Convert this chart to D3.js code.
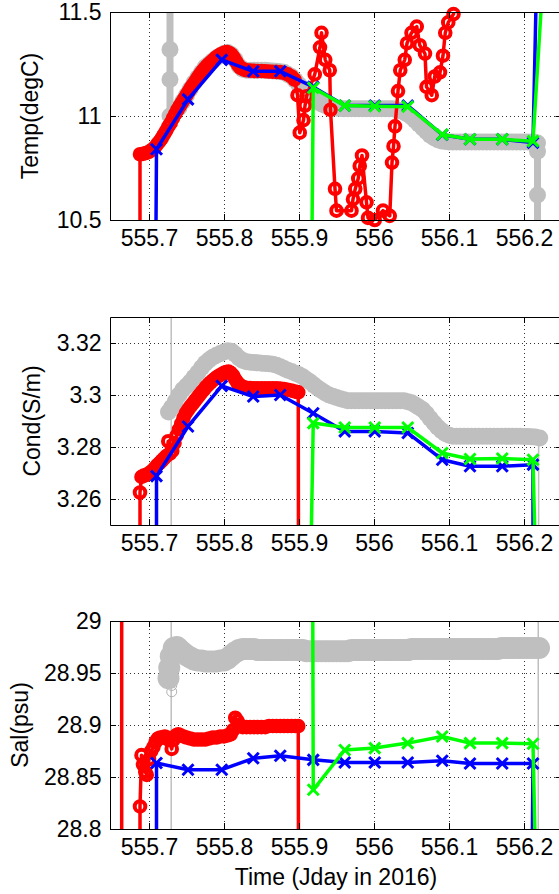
<!DOCTYPE html>
<html><head><meta charset="utf-8">
<script src="https://cdn.jsdelivr.net/npm/d3@7"></script>
<style>
html,body{margin:0;padding:0;background:#fff;}
svg{display:block;font-family:"Liberation Sans",Arial,Helvetica,sans-serif;}
</style></head><body>
<svg id="c" width="559" height="894"></svg>
<script>
// ---------- axes ----------
const xDomain = [555.648, 556.25];
const xTicks = [555.7, 555.8, 555.9, 556, 556.1, 556.2];
const xTickLabels = ["555.7", "555.8", "555.9", "556", "556.1", "556.2"];
const tempDomain = [10.5, 11.5];
const tempTicks = [10.5, 11, 11.5];
const tempTickLabels = ["10.5", "11", "11.5"];
const condDomain = [3.25, 3.33];
const condTicks = [3.26, 3.28, 3.3, 3.32];
const condTickLabels = ["3.26", "3.28", "3.3", "3.32"];
const salDomain = [28.8, 29];
const salTicks = [28.8, 28.85, 28.9, 28.95, 29];
const salTickLabels = ["28.8", "28.85", "28.9", "28.95", "29"];

// ---------- shared sample times (x-marker instruments) ----------
const blueT = [555.71, 555.752, 555.797, 555.839, 555.875, 555.919, 555.961, 556.001, 556.045, 556.091, 556.128, 556.171, 556.212];
const greenT = [555.919, 555.961, 556.001, 556.045, 556.091, 556.128, 556.171, 556.212];

// ---------- Temperature ----------
const tempGrayT = [555.728, 555.728, 555.728, 555.728, 555.733, 555.74, 555.745, 555.75, 555.755, 555.76, 555.765, 555.77, 555.775, 555.78, 555.785, 555.79, 555.795, 555.8, 555.805, 555.81, 555.815, 555.82, 555.825, 555.83, 555.835, 555.84, 555.845, 555.85, 555.855, 555.86, 555.865, 555.87, 555.875, 555.88, 555.885, 555.89, 555.895, 555.9, 555.905, 555.91, 555.915, 555.92, 555.925, 555.93, 555.935, 555.94, 555.945, 555.95, 555.955, 555.96, 555.965, 555.97, 555.975, 555.98, 555.985, 555.99, 555.995, 556.0, 556.005, 556.01, 556.015, 556.02, 556.025, 556.03, 556.035, 556.04, 556.045, 556.05, 556.055, 556.06, 556.065, 556.07, 556.075, 556.08, 556.085, 556.09, 556.095, 556.1, 556.105, 556.11, 556.115, 556.12, 556.125, 556.13, 556.135, 556.14, 556.145, 556.15, 556.155, 556.16, 556.165, 556.17, 556.175, 556.18, 556.185, 556.19, 556.195, 556.2, 556.205, 556.21, 556.215, 556.218, 556.218, 556.218, 556.218];
const tempGrayV = [11.6, 11.32, 11.175, 11.0, 11.01, 11.04, 11.07, 11.1, 11.13, 11.16, 11.185, 11.21, 11.235, 11.25, 11.265, 11.28, 11.29, 11.3, 11.305, 11.295, 11.27, 11.24, 11.225, 11.22, 11.22, 11.22, 11.22, 11.22, 11.22, 11.218, 11.216, 11.215, 11.213, 11.21, 11.2, 11.19, 11.172, 11.15, 11.132, 11.115, 11.1, 11.085, 11.07, 11.058, 11.05, 11.044, 11.04, 11.038, 11.036, 11.035, 11.035, 11.035, 11.035, 11.035, 11.035, 11.035, 11.035, 11.035, 11.035, 11.035, 11.035, 11.035, 11.035, 11.03, 11.025, 11.018, 11.008, 10.995, 10.978, 10.96, 10.942, 10.925, 10.908, 10.895, 10.886, 10.88, 10.877, 10.875, 10.875, 10.875, 10.875, 10.875, 10.875, 10.875, 10.875, 10.875, 10.875, 10.875, 10.875, 10.875, 10.875, 10.875, 10.875, 10.875, 10.875, 10.875, 10.875, 10.875, 10.875, 10.875, 10.873, 10.87, 10.83, 10.62, 10.4];
const tempRedT = [555.688, 555.688, 555.692, 555.696, 555.7, 555.704, 555.708, 555.711, 555.714, 555.717, 555.72, 555.723, 555.726, 555.729, 555.732, 555.735, 555.738, 555.741, 555.744, 555.747, 555.75, 555.753, 555.756, 555.759, 555.762, 555.765, 555.768, 555.771, 555.774, 555.777, 555.78, 555.783, 555.786, 555.789, 555.792, 555.795, 555.798, 555.801, 555.804, 555.807, 555.81, 555.813, 555.816, 555.819, 555.822, 555.826, 555.83, 555.835, 555.84, 555.845, 555.85, 555.855, 555.86, 555.865, 555.87, 555.875, 555.88, 555.885, 555.89, 555.894, 555.898, 555.901, 555.906, 555.908, 555.91, 555.921, 555.928, 555.93, 555.935, 555.941, 555.942, 555.948, 555.95, 555.97, 555.972, 555.975, 555.979, 555.981, 555.984, 555.99, 555.992, 556.001, 556.012, 556.021, 556.024, 556.026, 556.028, 556.032, 556.035, 556.041, 556.044, 556.05, 556.057, 556.061, 556.068, 556.07, 556.077, 556.081, 556.088, 556.092, 556.095, 556.099, 556.106, 556.109];
const tempRedV = [10.3, 10.816, 10.818, 10.822, 10.828, 10.838, 10.85, 10.865, 10.878, 10.893, 10.912, 10.93, 10.95, 10.967, 10.99, 11.01, 11.03, 11.048, 11.065, 11.083, 11.1, 11.118, 11.136, 11.152, 11.168, 11.184, 11.2, 11.214, 11.228, 11.24, 11.25, 11.26, 11.27, 11.28, 11.288, 11.295, 11.3, 11.305, 11.307, 11.303, 11.295, 11.28, 11.262, 11.245, 11.232, 11.224, 11.22, 11.218, 11.217, 11.216, 11.216, 11.215, 11.214, 11.213, 11.212, 11.211, 11.207, 11.2, 11.19, 11.175, 11.1, 10.92, 10.98, 11.05, 11.095, 11.2, 11.33, 11.4, 11.27, 11.22, 11.03, 10.65, 10.545, 10.545, 10.6, 10.65, 10.7, 10.76, 10.81, 10.585, 10.51, 10.5, 10.545, 10.52, 10.776, 10.855, 10.95, 11.12, 11.22, 11.27, 11.35, 11.4, 11.43, 11.34, 11.3, 11.14, 11.1, 11.19, 11.21, 11.29, 11.4, 11.45, 11.49, 11.56];
const tempBlueT = [555.709, ...blueT, 556.217];
const tempBlueV = [10.3, 10.84, 11.08, 11.27, 11.215, 11.215, 11.14, 11.05, 11.05, 11.05, 10.91, 10.888, 10.888, 10.872, 11.7];
const tempGreenT = [555.917, ...greenT, 556.226];
const tempGreenV = [10.3, 11.135, 11.05, 11.047, 11.045, 10.911, 10.888, 10.888, 10.879, 11.7];

// ---------- Conductivity ----------
const condGrayT = [555.726, 555.73, 555.735, 555.74, 555.745, 555.75, 555.755, 555.76, 555.765, 555.77, 555.775, 555.78, 555.785, 555.79, 555.795, 555.8, 555.805, 555.81, 555.815, 555.82, 555.825, 555.83, 555.835, 555.84, 555.845, 555.85, 555.855, 555.86, 555.865, 555.87, 555.875, 555.88, 555.885, 555.89, 555.895, 555.9, 555.905, 555.91, 555.915, 555.92, 555.925, 555.93, 555.935, 555.94, 555.945, 555.95, 555.955, 555.96, 555.965, 555.97, 555.975, 555.98, 555.985, 555.99, 555.995, 556.0, 556.005, 556.01, 556.015, 556.02, 556.025, 556.03, 556.035, 556.04, 556.045, 556.05, 556.055, 556.06, 556.065, 556.07, 556.075, 556.08, 556.085, 556.09, 556.095, 556.1, 556.105, 556.11, 556.115, 556.12, 556.125, 556.13, 556.135, 556.14, 556.145, 556.15, 556.155, 556.16, 556.165, 556.17, 556.175, 556.18, 556.185, 556.19, 556.195, 556.2, 556.205, 556.21, 556.215, 556.221];
const condGrayV = [3.2935, 3.2952, 3.2975, 3.3, 3.302, 3.3035, 3.305, 3.3068, 3.3086, 3.3105, 3.3122, 3.3135, 3.3145, 3.3153, 3.316, 3.3165, 3.317, 3.3168, 3.3157, 3.3142, 3.3133, 3.3128, 3.3126, 3.3125, 3.3124, 3.3122, 3.3121, 3.312, 3.3118, 3.3114, 3.3109, 3.3102, 3.3095, 3.309, 3.3084, 3.3078, 3.307, 3.306, 3.305, 3.3038, 3.3027, 3.3017, 3.3008, 3.3, 3.2995, 3.299, 3.2986, 3.2982, 3.2978, 3.2978, 3.2978, 3.2978, 3.2978, 3.2978, 3.2978, 3.2978, 3.2978, 3.2978, 3.2978, 3.2978, 3.2978, 3.2978, 3.2978, 3.2978, 3.2974, 3.297, 3.2962, 3.2953, 3.2943, 3.2928, 3.291, 3.2892, 3.2876, 3.2863, 3.2852, 3.2845, 3.2841, 3.2841, 3.2841, 3.2841, 3.2841, 3.2841, 3.2841, 3.2841, 3.2841, 3.2841, 3.2841, 3.2841, 3.2841, 3.2841, 3.2841, 3.2841, 3.2841, 3.2841, 3.2841, 3.284, 3.284, 3.2839, 3.2838, 3.2835];
const condThinLeftT = [555.7296, 555.7296];
const condThinLeftV = [3.2, 3.4];
const condThinRightT = [556.2195, 556.2195];
const condThinRightV = [3.2835, 3.2];
const condRedT = [555.688, 555.688, 555.69, 555.693, 555.696, 555.699, 555.702, 555.705, 555.708, 555.711, 555.714, 555.717, 555.72, 555.723, 555.7257, 555.728, 555.731, 555.734, 555.737, 555.74, 555.743, 555.746, 555.749, 555.752, 555.755, 555.758, 555.761, 555.764, 555.767, 555.77, 555.773, 555.776, 555.779, 555.782, 555.785, 555.788, 555.791, 555.794, 555.797, 555.8, 555.803, 555.806, 555.809, 555.812, 555.815, 555.818, 555.821, 555.825, 555.83, 555.835, 555.84, 555.845, 555.85, 555.855, 555.86, 555.865, 555.87, 555.875, 555.88, 555.885, 555.89, 555.895, 555.899, 555.8993];
const condRedV = [3.24, 3.2625, 3.2685, 3.269, 3.2692, 3.2697, 3.2703, 3.271, 3.272, 3.273, 3.2738, 3.2747, 3.2756, 3.2765, 3.2822, 3.2775, 3.2785, 3.2815, 3.2845, 3.2868, 3.289, 3.2912, 3.293, 3.2943, 3.2955, 3.2966, 3.2977, 3.2988, 3.2999, 3.301, 3.302, 3.3031, 3.304, 3.3048, 3.3056, 3.3063, 3.307, 3.3075, 3.308, 3.3085, 3.3088, 3.309, 3.3085, 3.3075, 3.306, 3.3047, 3.3039, 3.3032, 3.3028, 3.3027, 3.3026, 3.3026, 3.3026, 3.3026, 3.3026, 3.3026, 3.3026, 3.3025, 3.3023, 3.302, 3.3017, 3.3013, 3.301, 3.24];
const condBlueT = [555.71, ...blueT, 556.212];
const condBlueV = [3.24, 3.2688, 3.2879, 3.3035, 3.2994, 3.3, 3.293, 3.286, 3.286, 3.2854, 3.2751, 3.2726, 3.2726, 3.2732, 3.24];
const condGreenT = [555.916, ...greenT, 556.215];
const condGreenV = [3.24, 3.2892, 3.2875, 3.2875, 3.2875, 3.2777, 3.2754, 3.2756, 3.2751, 3.24];

// ---------- Salinity ----------
const salGrayT = [555.726, 555.727, 555.729, 555.733, 555.737, 555.74, 555.745, 555.75, 555.755, 555.76, 555.765, 555.77, 555.775, 555.78, 555.785, 555.79, 555.795, 555.8, 555.805, 555.81, 555.815, 555.82, 555.825, 555.83, 555.835, 555.84, 555.845, 555.85, 555.855, 555.86, 555.865, 555.87, 555.875, 555.88, 555.885, 555.89, 555.895, 555.9, 555.905, 555.91, 555.915, 555.92, 555.925, 555.93, 555.935, 555.94, 555.945, 555.95, 555.955, 555.96, 555.965, 555.97, 555.975, 555.98, 555.985, 555.99, 555.995, 556.0, 556.005, 556.01, 556.015, 556.02, 556.025, 556.03, 556.035, 556.04, 556.045, 556.05, 556.055, 556.06, 556.065, 556.07, 556.075, 556.08, 556.085, 556.09, 556.095, 556.1, 556.105, 556.11, 556.115, 556.12, 556.125, 556.13, 556.135, 556.14, 556.145, 556.15, 556.155, 556.16, 556.165, 556.17, 556.175, 556.18, 556.185, 556.19, 556.195, 556.2, 556.205, 556.21, 556.215, 556.22];
const salGrayV = [28.945, 28.955, 28.966, 28.974, 28.975, 28.973, 28.97, 28.967, 28.965, 28.963, 28.962, 28.962, 28.961, 28.961, 28.961, 28.961, 28.962, 28.962, 28.964, 28.967, 28.97, 28.972, 28.973, 28.973, 28.973, 28.973, 28.972, 28.972, 28.972, 28.972, 28.972, 28.972, 28.972, 28.972, 28.972, 28.972, 28.972, 28.972, 28.972, 28.971, 28.971, 28.971, 28.971, 28.971, 28.971, 28.971, 28.971, 28.971, 28.971, 28.971, 28.971, 28.972, 28.972, 28.972, 28.972, 28.972, 28.972, 28.972, 28.972, 28.972, 28.972, 28.972, 28.972, 28.972, 28.972, 28.972, 28.972, 28.973, 28.973, 28.973, 28.973, 28.973, 28.973, 28.973, 28.973, 28.973, 28.973, 28.973, 28.973, 28.973, 28.973, 28.973, 28.973, 28.973, 28.973, 28.973, 28.973, 28.973, 28.973, 28.973, 28.973, 28.974, 28.974, 28.974, 28.974, 28.974, 28.974, 28.974, 28.974, 28.974, 28.974, 28.974];
const salThinLeftT = [555.7296, 555.7296];
const salThinLeftV = [28.7, 29.1];
const salThinRightT = [556.219, 556.219];
const salThinRightV = [28.7, 29.1];
const salThinMarkT = [555.7303, 555.7303];
const salThinMarkV = [28.938, 28.932];
const salRedSpikeT = [555.6636, 555.6636];
const salRedSpikeV = [28.7, 29.1];
const salRedT = [555.688, 555.688, 555.69, 555.692, 555.695, 555.697, 555.7, 555.703, 555.706, 555.709, 555.712, 555.715, 555.718, 555.721, 555.724, 555.7257, 555.7303, 555.733, 555.736, 555.739, 555.742, 555.746, 555.75, 555.755, 555.76, 555.765, 555.77, 555.775, 555.78, 555.785, 555.79, 555.795, 555.8, 555.805, 555.809, 555.812, 555.815, 555.818, 555.821, 555.825, 555.83, 555.835, 555.84, 555.845, 555.85, 555.855, 555.86, 555.865, 555.87, 555.875, 555.88, 555.885, 555.89, 555.895, 555.899, 555.8993];
const salRedV = [28.78, 28.8217, 28.871, 28.862, 28.855, 28.852, 28.867, 28.875, 28.879, 28.884, 28.887, 28.888, 28.888, 28.889, 28.888, 28.886, 28.877, 28.886, 28.89, 28.891, 28.89, 28.889, 28.888, 28.887, 28.886, 28.886, 28.886, 28.886, 28.887, 28.888, 28.888, 28.889, 28.889, 28.89, 28.891, 28.895, 28.907, 28.904, 28.9, 28.898, 28.898, 28.898, 28.898, 28.898, 28.898, 28.898, 28.899, 28.899, 28.899, 28.899, 28.899, 28.899, 28.899, 28.899, 28.899, 28.78];
const salBlueT = [555.71, ...blueT, 556.211];
const salBlueV = [28.78, 28.8634, 28.857, 28.857, 28.868, 28.8704, 28.8665, 28.864, 28.864, 28.864, 28.8656, 28.863, 28.863, 28.863, 28.78];
const salGreenT = [555.918, ...greenT, 556.215];
const salGreenV = [29.1, 28.8377, 28.876, 28.8778, 28.8826, 28.889, 28.8826, 28.8826, 28.882, 28.78];

// ---------- drawing ----------
const GRAY = "#bfbfbf", RED = "#ff0000", BLUE = "#0000ff", GREEN = "#00ff00";
const FONT = 23;
const LEFT = 110, RIGHT = 561.5, PH = 208;
const svg = d3.select("#c");
const x = d3.scaleLinear().domain(xDomain).range([LEFT, RIGHT]);

const zip = (T, V) => T.map((t, i) => [t, V[i]]);

const styles = {
  grayThick: {color: GRAY, width: 7, marker: "disc", r: 8.5},
  graySal:   {color: GRAY, width: 7, marker: "disc", r: 11},
  grayThin:  {color: GRAY, width: 1.5, marker: null},
  grayThinO: {color: "#b0b0b0", width: 0, marker: "thinO", r: 5},
  red:       {color: RED, width: 3.5, marker: "o", r: 5.3},
  redLine:   {color: RED, width: 3.5, marker: null},
  blue:      {color: BLUE, width: 3.5, marker: "x", r: 5.5},
  green:     {color: GREEN, width: 3.5, marker: "x", r: 5.5}
};

const panels = [
  {top: 12, domain: tempDomain, ticks: tempTicks, labels: tempTickLabels, ylabel: "Temp(degC)", ylabelX: 38,
   series: [[tempGrayT, tempGrayV, "grayThick"], [tempRedT, tempRedV, "red"], [tempBlueT, tempBlueV, "blue"], [tempGreenT, tempGreenV, "green"]]},
  {top: 317, domain: condDomain, ticks: condTicks, labels: condTickLabels, ylabel: "Cond(S/m)", ylabelX: 40,
   series: [[condThinLeftT, condThinLeftV, "grayThin"], [condThinRightT, condThinRightV, "grayThin"], [condGrayT, condGrayV, "grayThick"], [condRedT, condRedV, "red"], [condBlueT, condBlueV, "blue"], [condGreenT, condGreenV, "green"]]},
  {top: 621, domain: salDomain, ticks: salTicks, labels: salTickLabels, ylabel: "Sal(psu)", ylabelX: 28,
   series: [[salThinLeftT, salThinLeftV, "grayThin"], [salThinRightT, salThinRightV, "grayThin"], [salThinMarkT, salThinMarkV, "grayThinO"], [salGrayT, salGrayV, "graySal"], [salRedSpikeT, salRedSpikeV, "redLine"], [salRedT, salRedV, "red"], [salBlueT, salBlueV, "blue"], [salGreenT, salGreenV, "green"]]}
];

const defs = svg.append("defs");

panels.forEach((p, idx) => {
  const top = p.top, bottom = p.top + PH;
  const y = d3.scaleLinear().domain(p.domain).range([bottom, top]);
  const clipId = "clip" + idx;
  defs.append("clipPath").attr("id", clipId).append("rect")
    .attr("x", LEFT).attr("y", top).attr("width", RIGHT - LEFT).attr("height", PH);

  const g = svg.append("g");
  // grid
  const grid = g.append("g").attr("stroke", "#333").attr("stroke-width", 1).attr("stroke-dasharray", "1,3");
  xTicks.forEach(t => grid.append("line").attr("x1", Math.round(x(t)) + 0.5).attr("x2", Math.round(x(t)) + 0.5).attr("y1", top).attr("y2", bottom));
  p.ticks.forEach(v => {
    if (v > p.domain[0] + 1e-9 && v < p.domain[1] - 1e-9)
      grid.append("line").attr("x1", LEFT).attr("x2", RIGHT).attr("y1", Math.round(y(v)) + 0.5).attr("y2", Math.round(y(v)) + 0.5);
  });

  // series
  const line = d3.line().x(d => x(d[0])).y(d => y(d[1]));
  p.series.forEach(([T, V, sName]) => {
    const s = styles[sName];
    const pts = zip(T, V);
    if (s.width > 0) {
      g.append("path").attr("clip-path", `url(#${clipId})`).attr("d", line(pts))
        .attr("fill", "none").attr("stroke", s.color).attr("stroke-width", s.width)
        .attr("stroke-linejoin", "round").attr("stroke-linecap", "round");
    }
    if (s.marker) {
      const inPts = pts.filter(d => d[1] >= p.domain[0] && d[1] <= p.domain[1] && d[0] >= xDomain[0] && d[0] <= xDomain[1]);
      const mg = g.append("g");
      inPts.forEach(d => {
        const cx = x(d[0]), cy = y(d[1]);
        if (s.marker === "disc") {
          mg.append("circle").attr("cx", cx).attr("cy", cy).attr("r", s.r).attr("fill", s.color);
        } else if (s.marker === "o") {
          mg.append("circle").attr("cx", cx).attr("cy", cy).attr("r", s.r).attr("fill", "none").attr("stroke", s.color).attr("stroke-width", 4);
        } else if (s.marker === "thinO") {
          mg.append("circle").attr("cx", cx).attr("cy", cy).attr("r", s.r).attr("fill", "none").attr("stroke", s.color).attr("stroke-width", 1);
        } else if (s.marker === "x") {
          const r = s.r;
          mg.append("path").attr("d", `M${cx - r},${cy - r}L${cx + r},${cy + r}M${cx - r},${cy + r}L${cx + r},${cy - r}`)
            .attr("stroke", s.color).attr("stroke-width", 3).attr("fill", "none");
        }
      });
    }
  });

  // axes
  const styleAxis = a => {
    a.attr("font-family", null).attr("font-size", null);
    a.select(".domain").attr("stroke", "#000").attr("stroke-width", 1);
    a.selectAll(".tick line").attr("stroke", "#000");
    a.selectAll(".tick text").attr("fill", "#000").style("font-size", FONT + "px");
  };
  const axB = svg.append("g").attr("transform", `translate(0,${bottom})`)
    .call(d3.axisBottom(x).tickValues(xTicks).tickFormat((d, i) => xTickLabels[i]).tickSizeInner(-6).tickSizeOuter(0).tickPadding(9.5));
  styleAxis(axB);
  const axT = svg.append("g").attr("transform", `translate(0,${top})`)
    .call(d3.axisTop(x).tickValues(xTicks).tickFormat("").tickSizeInner(-6).tickSizeOuter(0));
  styleAxis(axT);
  const axL = svg.append("g").attr("transform", `translate(${LEFT},0)`)
    .call(d3.axisLeft(y).tickValues(p.ticks).tickFormat((d, i) => p.labels[i]).tickSizeInner(-6).tickSizeOuter(0).tickPadding(8.5));
  styleAxis(axL);
  const axR = svg.append("g").attr("transform", `translate(${RIGHT},0)`)
    .call(d3.axisRight(y).tickValues(p.ticks).tickFormat("").tickSizeInner(-6).tickSizeOuter(0));
  styleAxis(axR);

  // y label
  svg.append("text").attr("transform", `translate(${p.ylabelX},${(top + bottom) / 2}) rotate(-90)`)
    .attr("text-anchor", "middle").style("font-size", FONT + "px").attr("fill", "#000").text(p.ylabel);
});

svg.append("text").attr("x", 336).attr("y", 885).attr("text-anchor", "middle")
  .style("font-size", FONT + "px").attr("fill", "#000").text("Time (Jday in 2016)");
</script>
</body></html>
